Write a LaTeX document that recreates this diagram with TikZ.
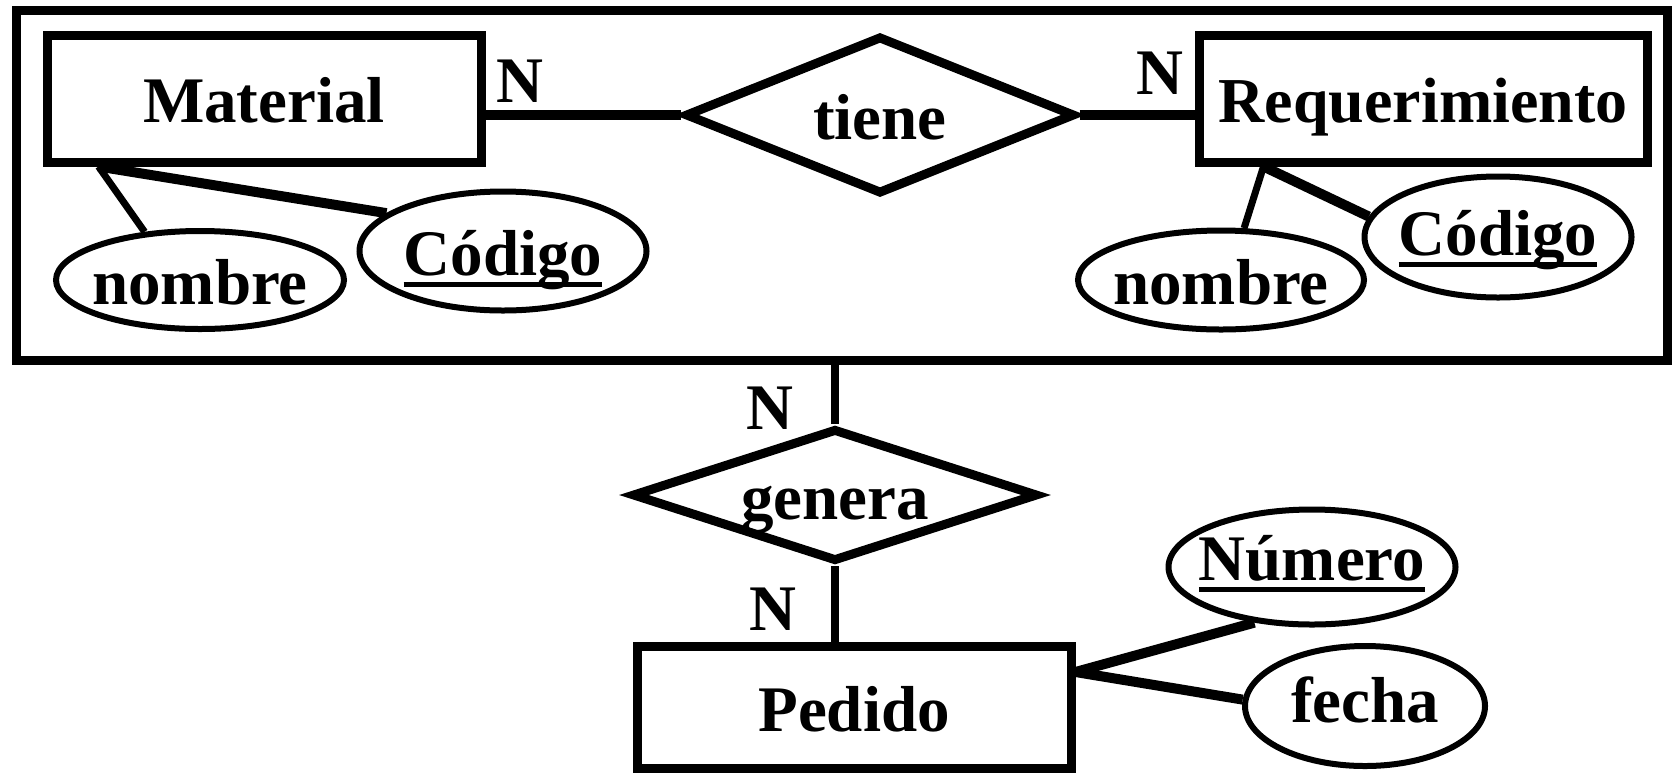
\documentclass[tikz,border=0pt]{standalone}
\usepackage{fontspec}
\setmainfont{Liberation Serif}
\usepackage{tikz}
\usetikzlibrary{calc}
\usetikzlibrary{shapes.geometric}
\newcommand{\erfont}{\fontsize{65pt}{72pt}\selectfont\bfseries}
\newsavebox{\pkbox}
\newcommand{\pk}[1]{\sbox{\pkbox}{#1}\rlap{\rule[-12pt]{\wd\pkbox}{5pt}}\usebox{\pkbox}}
\tikzset{entity/.style={draw=black, line width=9pt, rectangle, inner xsep=5pt, minimum width=434pt, minimum height=127pt, text height=48pt, text depth=0pt, font=\erfont}}
\tikzset{rel/.style={draw=black, line width=9pt, diamond, aspect=2.5, inner sep=0pt, text height=48pt, text depth=0pt, font=\erfont}}
\tikzset{attr/.style={draw=black, line width=6pt, ellipse, inner xsep=-25pt, inner ysep=0pt, text height=48pt, text depth=0pt, font=\erfont}}
\tikzset{card/.style={font=\erfont}}
\tikzset{link/.style={line width=10pt}}
\tikzset{tlink/.style={line width=7pt}}

\begin{document}
\begin{tikzpicture}[x=1pt,y=-1pt]
        \useasboundingbox (0,0) rectangle (1680,772);

        \node[draw=black, line width=9pt, minimum width=1651pt, minimum height=350pt] (agg) at (842,185) {};

        \node[entity] (mat) at (264,98.5) {Material};
        \node[entity, minimum width=448pt, font=\fontsize{64pt}{70pt}\selectfont\bfseries] (req) at (1423,98.5) {Requerimiento};
        \node[rel, minimum width=390pt, minimum height=158pt] (tiene) at (880,115) {tiene};

        \node[attr, minimum width=288pt, minimum height=98pt] (mat-nom) at (200,280) {nombre};
        \node[attr, minimum width=287pt, minimum height=119pt] (mat-cod) at (503,251) {\pk{Código}};
        \node[attr, minimum width=286pt, minimum height=99pt] (req-nom) at (1221,280) {nombre};
        \node[attr, minimum width=267pt, minimum height=121pt, text height=36pt] (req-cod) at (1498,237) {\pk{Código}};

        \node[card] (n-mat) at (520,81) {N};
        \node[card] (n-req) at (1160,73) {N};

        \draw[link] (tiene.west) -- (tiene.west -| mat.east);
        \draw[link] (tiene.east) -- (tiene.east -| req.west);
        \draw[tlink] ($(mat.south west)+(56,0)$) -- (mat-nom.139);
        \draw[link] ($(mat.south west)+(56,0)$) -- (mat-cod.162);
        \draw[tlink] ($(req.south west)+(69,0)$) -- (req-nom.66);
        \draw[link] ($(req.south west)+(69,0)$) -- (req-cod.171);

        \node[rel, minimum width=406pt, minimum height=133pt] (genera) at (835,495) {genera};
        \node[entity, minimum height=122pt] (ped) at (854,707) {Pedido};
        \node[attr, minimum width=287pt, minimum height=115pt, text height=26pt] (num) at (1312,567) {\pk{Número}};
        \node[attr, minimum width=240pt, minimum height=120pt, text height=32pt] (fecha) at (1365,706) {fecha};

        \node[card] (n-agg) at (770,408) {N};
        \node[card] (n-ped) at (773,609) {N};

        \draw[line width=8pt] (agg.south -| genera.north) -- (genera.north);
        \draw[line width=8pt] (genera.south) -- (genera.south |- ped.north);
        \draw[link] ($(ped.east)+(0,-35)$) -- (num.224);
        \draw[link] ($(ped.east)+(0,-35)$) -- (fecha.177);
\end{tikzpicture}
\end{document}
